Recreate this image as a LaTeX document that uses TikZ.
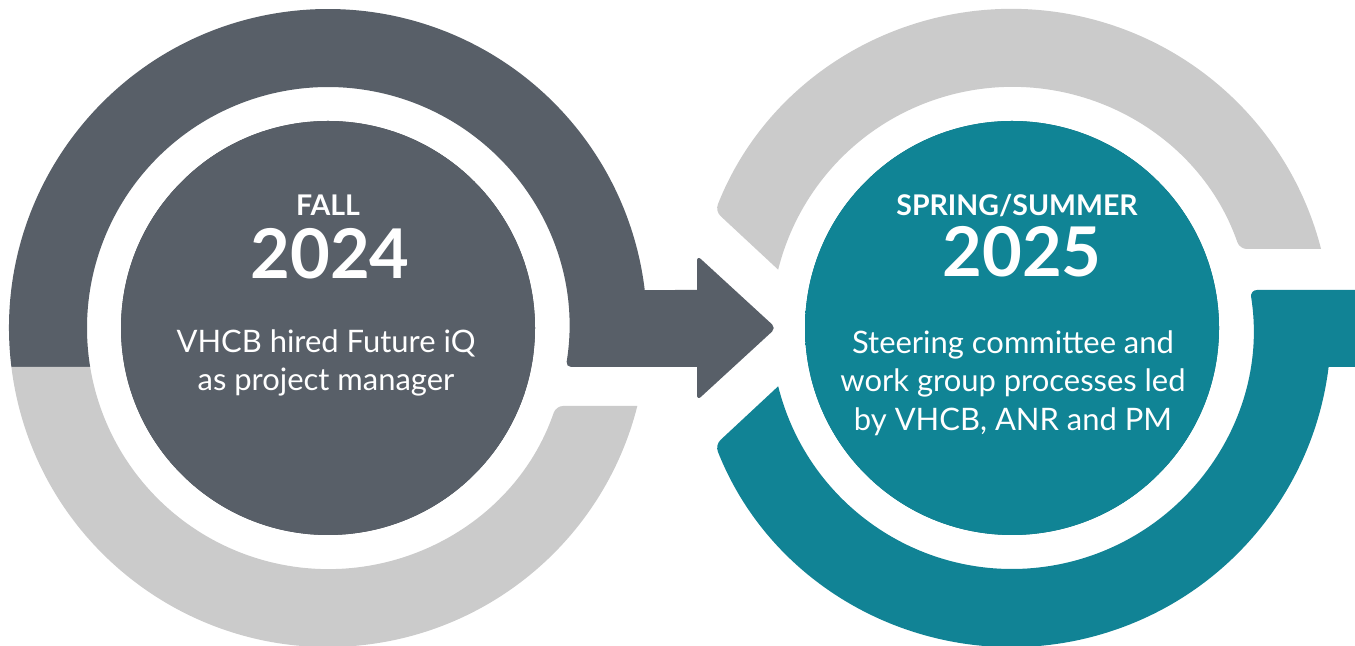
\documentclass[tikz,border=0pt]{standalone}
\usepackage{fontspec}
\setmainfont{Lato}
\usetikzlibrary{positioning, calc}
\definecolor{ringdark}{RGB}{88,95,104}
\definecolor{ringlight}{RGB}{203,203,203}
\definecolor{ringteal}{RGB}{17,131,149}
\definecolor{discgrey}{RGB}{88,95,104}
\definecolor{discgreyrim}{RGB}{70,75,82}
\definecolor{discteal}{RGB}{16,132,149}
\definecolor{disctealrim}{RGB}{6,108,123}
\pgfdeclareradialshading{greyglow}{\pgfpoint{0bp}{0bp}}{color(0bp)=(discgrey); color(41bp)=(discgrey); color(50bp)=(discgreyrim)}
\pgfdeclareradialshading{tealglow}{\pgfpoint{0bp}{0bp}}{color(0bp)=(discteal); color(40bp)=(discteal); color(50bp)=(disctealrim)}

\begin{document}
\begin{tikzpicture}[x=0.01cm, y=0.01cm,
    season/.style={anchor=base, text=white, font=\fontsize{8.1}{10}\selectfont\bfseries},
    year/.style={anchor=base, text=white, font=\fontsize{19.5}{22}\selectfont\bfseries},
    body/.style={anchor=base, text=white, font=\fontsize{8.8}{10}\selectfont}]
\useasboundingbox (0,0) rectangle (1355,646);
\clip (0,0) rectangle (1355,646);

% Left ring, dark part with the arrow
\fill[ringdark] (11.4,279) arc[start angle=187.02, end angle=6.84, radius=319]
    -- (697,356) [rounded corners=1.5pt] -- (697,390.5) -- (776,318) -- (697,245.5)
    [sharp corners] -- (697,279) [rounded corners=1.5pt] -- (565.8,279)
    [sharp corners] arc[start angle=-9.31, end angle=189.31, radius=241] -- cycle;

% Left ring, light part
\fill[ringlight] (11.4,279) arc[start angle=187.02, end angle=345.85, radius=319]
    [rounded corners=2pt] -- (556,240)
    [sharp corners] arc[start angle=341.12, end angle=189.31, radius=241] -- cycle;

% Right ring, light part
\fill[ringlight] (1012,318) ++(158.5:319) arc[start angle=158.5, end angle=14.34, radius=319]
    [rounded corners=2pt] -- (1239.7,397)
    [sharp corners] arc[start angle=19.13, end angle=166, radius=241]
    [rounded corners=2pt] -- cycle;

% Right ring, teal part
\fill[ringteal] (1012,318) ++(201.5:319) arc[start angle=201.5, end angle=352.98, radius=319]
    -- (1370,279) -- (1370,356) [rounded corners=2pt] -- (1250,356)
    [sharp corners] arc[start angle=9.07, end angle=-166, radius=241]
    [rounded corners=2pt] -- cycle;

% Discs
\fill[discgreyrim] (328,318) circle[radius=207];
\begin{scope}
\clip (328,318) circle[radius=207];
\shade[shading=greyglow] (343,303) circle[radius=228];
\end{scope}
\fill[disctealrim] (1012,318) circle[radius=207];
\begin{scope}
\clip (1012,318) circle[radius=207];
\shade[shading=tealglow] (1027,303) circle[radius=228];
\end{scope}

% Fall 2024
\node[season] (fallseason) at (328,430) {FALL};
\node[year] (fallyear) at (330,367) {2024};
\node[body] (fallline1) at (326,293) {VHCB hired Future iQ};
\node[body] (fallline2) at (326,255) {as project manager};

% Spring/Summer 2025
\node[season] (springseason) at (1017,430) {SPRING/SUMMER};
\node[year] (springyear) at (1022,369) {2025};
\node[body] (springline1) at (1013,292.5) {Steering committee and};
\node[body] (springline2) at (1013,254.6) {work group processes led};
\node[body] (springline3) at (1013,215.4) {by VHCB, ANR and PM};
\end{tikzpicture}
\end{document}
